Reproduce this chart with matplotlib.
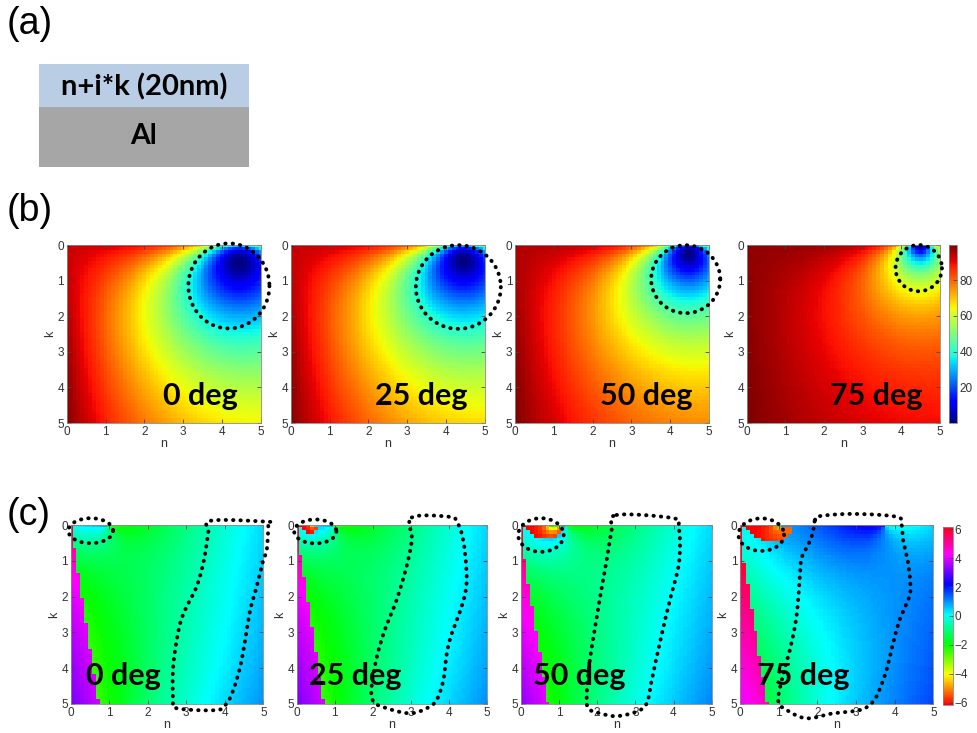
import numpy as np
import matplotlib
matplotlib.use("Agg")
import matplotlib.pyplot as plt

# ---- optical stack: absorbing film (n + i k, 20 nm) on aluminium ----
WAVELENGTH_NM = 550.0
FILM_THICKNESS_NM = 20.0
AL_INDEX = 0.96 + 6.69j
ANGLES_DEG = [0, 25, 50, 75]
ANGLE_LABELS = ["0 deg", "25 deg", "50 deg", "75 deg"]
N_VALUES = np.linspace(0.0, 5.0, 51)
K_VALUES = np.linspace(0.0, 5.0, 51)
AXIS_TICKS = [0, 1, 2, 3, 4, 5]
R_TICKS = [20, 40, 60, 80]
PHASE_TICKS = [-6, -4, -2, 0, 2, 4, 6]
R_LIMITS = (0.0, 99.6)
PHASE_LIMITS = (-6.15, 6.15)

# dotted guides (n, k): ellipses as (centre n, centre k, width, height)
B_ELLIPSES = [(4.18, 1.15, 2.09, 2.39), (4.32, 1.18, 2.19, 2.35),
              (4.40, 0.96, 1.78, 1.91), (4.45, 0.65, 1.20, 1.30)]
C_ELLIPSES = [(0.52, 0.16, 1.16, 0.70), (0.49, 0.18, 1.11, 0.67),
              (0.53, 0.28, 1.19, 0.94), (0.55, 0.27, 1.18, 0.91)]
C_LOOPS = [
    [(3.64, -0.12), (5.09, -0.09), (5.13, 0.0), (5.09, 0.70), (5.0, 0.98), (4.83, 1.72),
     (4.66, 2.37), (4.53, 3.21), (4.40, 3.96), (4.22, 4.61), (4.05, 4.98), (3.79, 5.17),
     (2.75, 5.12), (2.66, 4.89), (2.65, 4.14), (2.71, 3.49), (2.84, 2.75), (3.01, 2.28),
     (3.27, 1.72), (3.46, 0.98), (3.57, 0.23)],
    [(3.03, -0.21), (4.03, -0.23), (4.21, -0.09), (4.34, 0.23), (4.43, 0.79), (4.47, 1.63),
     (4.34, 2.28), (4.08, 3.03), (3.95, 3.58), (3.86, 4.33), (3.68, 4.89), (3.42, 5.12),
     (2.98, 5.26), (2.37, 5.12), (2.02, 4.93), (1.97, 4.52), (2.11, 3.68), (2.32, 2.93),
     (2.63, 2.09), (2.89, 1.16), (3.03, 0.42)],
    [(2.51, -0.28), (4.0, -0.19), (4.13, 0.05), (4.17, 0.51), (4.13, 1.16), (3.95, 1.91),
     (3.78, 2.65), (3.60, 3.49), (3.43, 4.33), (3.30, 4.98), (3.04, 5.21), (2.51, 5.34),
     (2.08, 5.26), (1.77, 5.12), (1.73, 4.70), (1.81, 3.77), (1.95, 2.84), (2.08, 2.0),
     (2.25, 0.98), (2.38, 0.14)],
    [(1.94, -0.14), (2.07, -0.25), (2.93, -0.31), (4.05, -0.23), (4.18, 0.0), (4.22, 0.42),
     (4.35, 1.07), (4.41, 1.82), (4.31, 2.19), (4.13, 2.65), (3.96, 3.30), (3.79, 4.05),
     (3.57, 4.70), (3.40, 4.98), (3.10, 5.17), (2.41, 5.26), (1.72, 5.40), (1.21, 5.17),
     (0.99, 4.93), (1.08, 4.33), (1.29, 3.49), (1.46, 2.56), (1.55, 1.44), (1.59, 0.93),
     (1.76, 0.56), (1.88, 0.23)],
]
B_LABEL_X = [3.44, 3.37, 3.37, 3.35]
C_LABEL_X = [1.37, 1.55, 1.53, 1.64]


def interfaces(n, k, theta_deg, pol):
    """Fresnel coefficients air/film (r10 seen from inside), film/Al, and film phase thickness."""
    N1 = n + 1j * k
    s = np.sin(np.radians(theta_deg))
    c0 = np.cos(np.radians(theta_deg))
    c1 = np.sqrt(1 - (s / N1) ** 2 + 0j)
    c2 = np.sqrt(1 - (s / AL_INDEX) ** 2)
    if pol == "s":
        r10 = (N1 * c1 - c0) / (N1 * c1 + c0)
        r12 = (N1 * c1 - AL_INDEX * c2) / (N1 * c1 + AL_INDEX * c2)
    else:
        r10 = (N1 * c0 - c1) / (N1 * c0 + c1)
        r12 = (N1 * c2 - AL_INDEX * c1) / (N1 * c2 + AL_INDEX * c1)
    beta = 2 * np.pi * FILM_THICKNESS_NM * N1 * c1 / WAVELENGTH_NM
    return r10, r12, beta


def reflectance(n, k, theta_deg):
    with np.errstate(all="ignore"):
        r10, r12, beta = interfaces(n, k, theta_deg, "s")
        prop = np.exp(2j * beta)
        r = (-r10 + r12 * prop) / (1 - r10 * r12 * prop)
        return 100 * np.abs(r) ** 2


def round_trip_phase(n, k, theta_deg):
    with np.errstate(all="ignore"):
        r10, r12, beta = interfaces(n, k, theta_deg, "p")
        return np.angle(r10) + np.angle(r12) + 2 * beta.real


def closed_curve(points, samples=24):
    P = np.asarray(points, float)
    m = len(P)
    t = np.linspace(0, 1, samples, endpoint=False)[:, None]
    segs = []
    for i in range(m):
        p0, p1, p2, p3 = P[i - 1], P[i], P[(i + 1) % m], P[(i + 2) % m]
        segs.append(0.5 * (2 * p1 + (-p0 + p2) * t + (2 * p0 - 5 * p1 + 4 * p2 - p3) * t ** 2
                           + (-p0 + 3 * p1 - 3 * p2 + p3) * t ** 3))
    out = np.vstack(segs)
    return np.vstack([out, out[:1]])


def ellipse_curve(cx, cy, w, h, samples=200):
    t = np.linspace(0, 2 * np.pi, samples)
    return np.column_stack([cx + 0.5 * w * np.cos(t), cy + 0.5 * h * np.sin(t)])


DOT = dict(color="black", lw=2.8, linestyle=(0, (0.1, 1.8)), dash_capstyle="round",
           solid_capstyle="round", clip_on=False, zorder=5)
LABEL_FONT = dict(family=["Lato", "DejaVu Sans"], fontweight="bold", fontsize=22,
                  color="black", zorder=6)
SMALL_FONT = ["Liberation Sans", "DejaVu Sans"]


def style_axes(ax):
    ax.set_xlim(0, 5)
    ax.set_ylim(5, 0)
    ax.set_xticks(AXIS_TICKS)
    ax.set_yticks(AXIS_TICKS)
    ax.tick_params(direction="in", length=3, width=0.6, color="#444444", top=True,
                   right=True, labelsize=8.5, labelcolor="#333333", pad=2)
    for lab in ax.get_xticklabels() + ax.get_yticklabels():
        lab.set_family(SMALL_FONT)
    for sp in ax.spines.values():
        sp.set_color("#888888")
        sp.set_linewidth(0.6)
    ax.set_xlabel("n", fontsize=9, color="#333333", labelpad=0, family=SMALL_FONT)
    ax.set_ylabel("k", fontsize=9, color="#333333", labelpad=1, family=SMALL_FONT)


def style_cbar(cb):
    cb.ax.tick_params(direction="in", length=3, width=0.6, color="#444444",
                      labelsize=8.5, labelcolor="#333333", pad=1.5)
    for lab in cb.ax.get_yticklabels():
        lab.set_family(SMALL_FONT)
    cb.outline.set_edgecolor("#888888")
    cb.outline.set_linewidth(0.6)


W, H = 977, 733
fig = plt.figure(figsize=(W / 100, H / 100), dpi=100)


def frac(x0, y0, x1, y1):
    return [x0 / W, 1 - y1 / H, (x1 - x0) / W, (y1 - y0) / H]


# ---- (a) layer sketch and panel letters ----
over = fig.add_axes([0, 0, 1, 1], zorder=-1)
over.set_xlim(0, W)
over.set_ylim(H, 0)
over.axis("off")
over.add_patch(plt.Rectangle((39.3, 64.3), 209.7, 43.0, facecolor="#b9cde5", edgecolor="none"))
over.add_patch(plt.Rectangle((39.3, 107.3), 209.7, 60.0, facecolor="#a6a6a6", edgecolor="none"))
over.text(144.5, 87.0, "n+i*k (20nm)", ha="center", va="center", fontsize=21,
          fontweight="bold", family=["Lato", "DejaVu Sans"])
over.text(143.5, 136.0, "Al", ha="center", va="center", fontsize=20.5,
          fontweight="bold", family=["Lato", "DejaVu Sans"])
for txt, ytop in [("(a)", 6), ("(b)", 193), ("(c)", 497)]:
    over.text(7, ytop, txt, ha="left", va="top", fontsize=27,
              family=["Liberation Sans", "DejaVu Sans"])

jet = plt.get_cmap("jet").copy()
jet.set_bad(jet(0.0))
hsv = plt.get_cmap("hsv").copy()
hsv.set_bad(hsv(0.0))

NN, KK = np.meshgrid(N_VALUES, K_VALUES)

B_BOXES = [(66.7, 245, 260.7, 423), (290.7, 245, 484.7, 423),
           (515.0, 245, 709.0, 423), (746.7, 245, 940.0, 423)]
C_BOXES = [(70.7, 525, 263.3, 704), (296.7, 525, 486.7, 704),
           (520.7, 525, 711.7, 704), (740.0, 525, 933.3, 704)]

for i, theta in enumerate(ANGLES_DEG):
    refl = reflectance(NN, KK, theta)
    phase = round_trip_phase(NN, KK, theta)

    axb = fig.add_axes(frac(*B_BOXES[i]))
    mb = axb.pcolormesh(N_VALUES, K_VALUES, np.ma.masked_invalid(refl), cmap=jet,
                        vmin=R_LIMITS[0], vmax=R_LIMITS[1], shading="nearest")
    style_axes(axb)
    cx, cy, w, h = B_ELLIPSES[i]
    e = ellipse_curve(cx, cy, w, h)
    axb.plot(e[:, 0], e[:, 1], **DOT)
    axb.text(B_LABEL_X[i], 4.49, ANGLE_LABELS[i], ha="center", va="baseline", **LABEL_FONT)

    axc = fig.add_axes(frac(*C_BOXES[i]))
    mc = axc.pcolormesh(N_VALUES, K_VALUES, np.ma.masked_invalid(phase), cmap=hsv,
                        vmin=PHASE_LIMITS[0], vmax=PHASE_LIMITS[1], shading="nearest")
    style_axes(axc)
    cx, cy, w, h = C_ELLIPSES[i]
    e = ellipse_curve(cx, cy, w, h)
    axc.plot(e[:, 0], e[:, 1], **DOT)
    loop = closed_curve(C_LOOPS[i])
    axc.plot(loop[:, 0], loop[:, 1], **DOT)
    axc.text(C_LABEL_X[i], 4.47, ANGLE_LABELS[i], ha="center", va="baseline", **LABEL_FONT)

cb1 = fig.colorbar(mb, cax=fig.add_axes(frac(949.0, 245, 957.3, 423)), ticks=R_TICKS)
style_cbar(cb1)
cb2 = fig.colorbar(mc, cax=fig.add_axes(frac(943.3, 527, 952.7, 705)), ticks=PHASE_TICKS)
style_cbar(cb2)

fig.savefig("out.png", dpi=100)
